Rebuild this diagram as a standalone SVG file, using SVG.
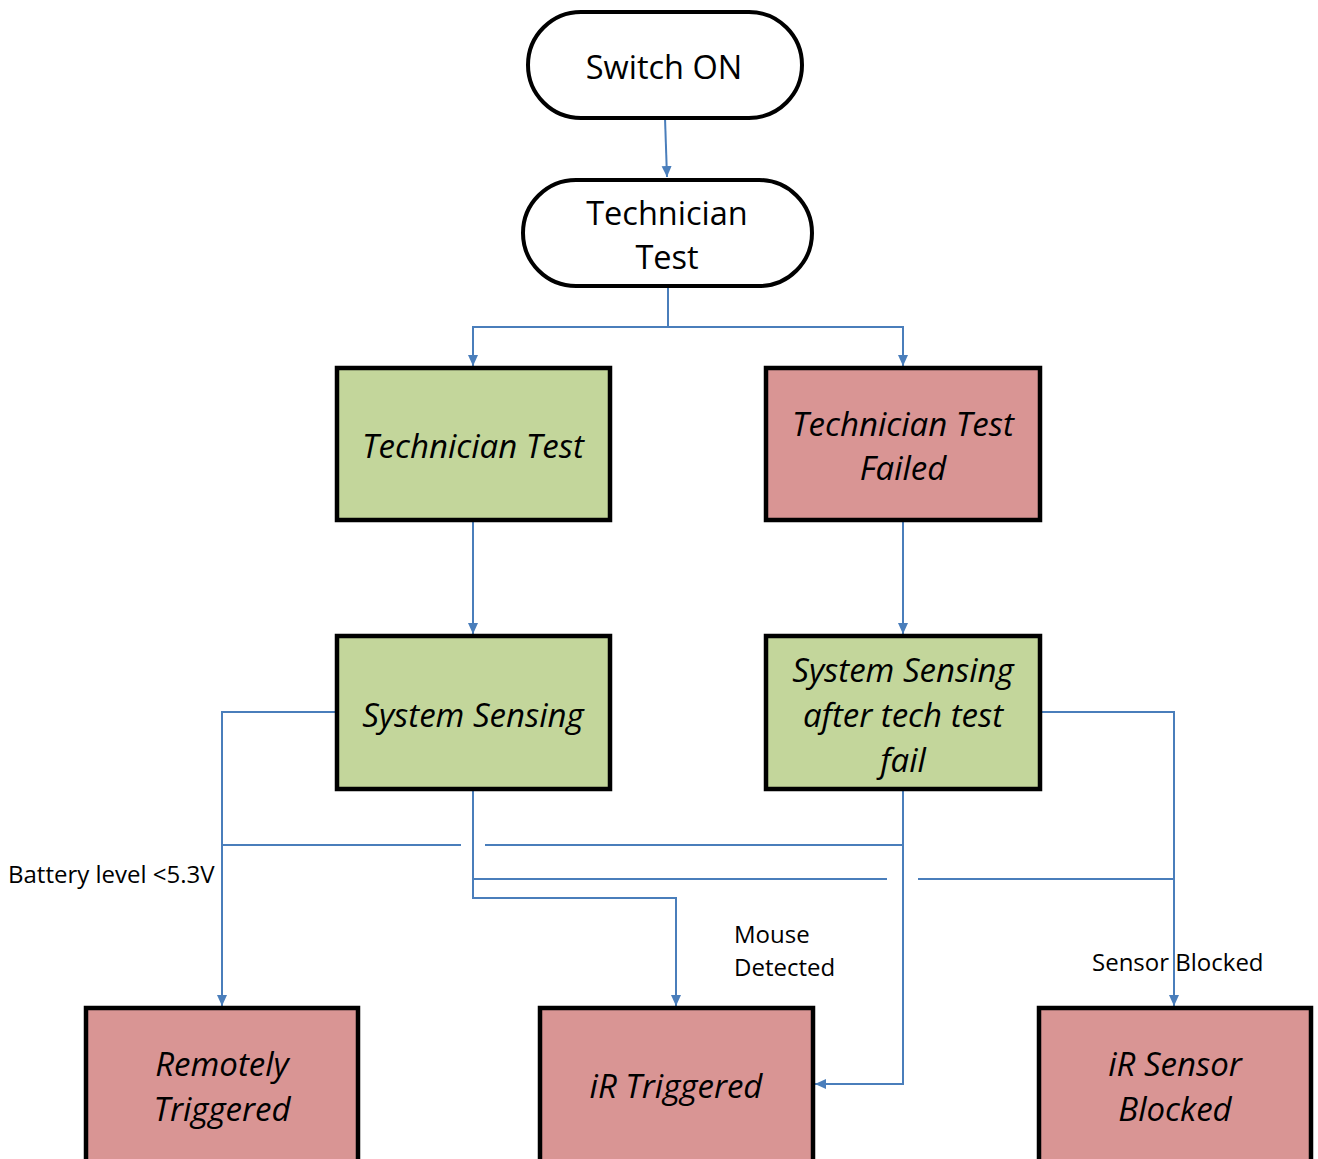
<svg xmlns="http://www.w3.org/2000/svg" width="1318" height="1159" viewBox="0 0 1318 1159">
<style>
.term{fill:#fff;stroke:#000;stroke-width:4}
.g{fill:#C3D69B;stroke:#000;stroke-width:4.5}
.r{fill:#D99594;stroke:#000;stroke-width:4.5}
.t{font-family:"Open Sans","Liberation Sans",sans-serif;font-size:32.5px;fill:#000;text-anchor:middle}
.i{font-style:italic;font-size:33px}
.lbl{font-family:"Open Sans","Liberation Sans",sans-serif;font-size:24px;fill:#000}
.c{fill:none;stroke:#4A7EBB;stroke-width:2}
</style>
<defs>
<marker id="a" markerWidth="12" markerHeight="12" refX="11" refY="5" orient="auto" markerUnits="userSpaceOnUse">
<path d="M0,0 L11,5 L0,10 Z" fill="#4A7EBB"/>
</marker>
</defs>
<rect width="1318" height="1159" fill="#fff"/>
<g id="connectors">
<path class="c" d="M665,118 L667,177" marker-end="url(#a)"/>
<path class="c" d="M668,286 L668,327 L473,327 L473,366" marker-end="url(#a)"/>
<path class="c" d="M668,327 L903,327 L903,366" marker-end="url(#a)"/>
<path class="c" d="M473,520 L473,634" marker-end="url(#a)"/>
<path class="c" d="M903,520 L903,634" marker-end="url(#a)"/>
<path class="c" d="M337,712 L222,712 L222,1006" marker-end="url(#a)"/>
<path class="c" d="M903,789 L903,1084 L815,1084" marker-end="url(#a)"/>
<path class="c" d="M903,845 L485,845"/>
<path class="c" d="M461,845 L222,845"/>
<path class="c" d="M473,789 L473,898 L676,898 L676,1006" marker-end="url(#a)"/>
<path class="c" d="M473,879 L887,879"/>
<path class="c" d="M918,879 L1174,879"/>
<path class="c" d="M1040,712 L1174,712 L1174,1006" marker-end="url(#a)"/>
</g>
<g id="switch-on">
<rect class="term" x="528" y="12" width="274" height="106" rx="53"/>
<text class="t" x="664" y="79">Switch ON</text>
</g>
<g id="technician-test-start">
<rect class="term" x="523" y="180" width="289" height="106" rx="53"/>
<text class="t" x="667" y="225">Technician</text>
<text class="t" x="667" y="269">Test</text>
</g>
<g id="technician-test">
<rect class="g" x="337" y="368" width="273" height="152"/>
<text class="t i" x="473" y="458">Technician Test</text>
</g>
<g id="technician-test-failed">
<rect class="r" x="766" y="368" width="274" height="152"/>
<text class="t i" x="903" y="436">Technician Test</text>
<text class="t i" x="903" y="480">Failed</text>
</g>
<g id="system-sensing">
<rect class="g" x="337" y="636" width="273" height="153"/>
<text class="t i" x="473" y="727">System Sensing</text>
</g>
<g id="system-sensing-after-fail">
<rect class="g" x="766" y="636" width="274" height="153"/>
<text class="t i" x="903" y="682">System Sensing</text>
<text class="t i" x="903" y="727">after tech test</text>
<text class="t i" x="903" y="772">fail</text>
</g>
<g id="remotely-triggered">
<rect class="r" x="86" y="1008" width="272" height="156"/>
<text class="t i" x="222" y="1076">Remotely</text>
<text class="t i" x="222" y="1121">Triggered</text>
</g>
<g id="ir-triggered">
<rect class="r" x="540" y="1008" width="273" height="156"/>
<text class="t i" x="676" y="1098">iR Triggered</text>
</g>
<g id="ir-sensor-blocked">
<rect class="r" x="1039" y="1008" width="272" height="156"/>
<text class="t i" x="1175" y="1076">iR Sensor</text>
<text class="t i" x="1175" y="1121">Blocked</text>
</g>
<g id="labels">
<text class="lbl" x="8" y="883">Battery level &lt;5.3V</text>
<text class="lbl" x="734" y="943">Mouse</text>
<text class="lbl" x="734" y="976">Detected</text>
<text class="lbl" x="1092" y="971">Sensor Blocked</text>
</g>
</svg>
